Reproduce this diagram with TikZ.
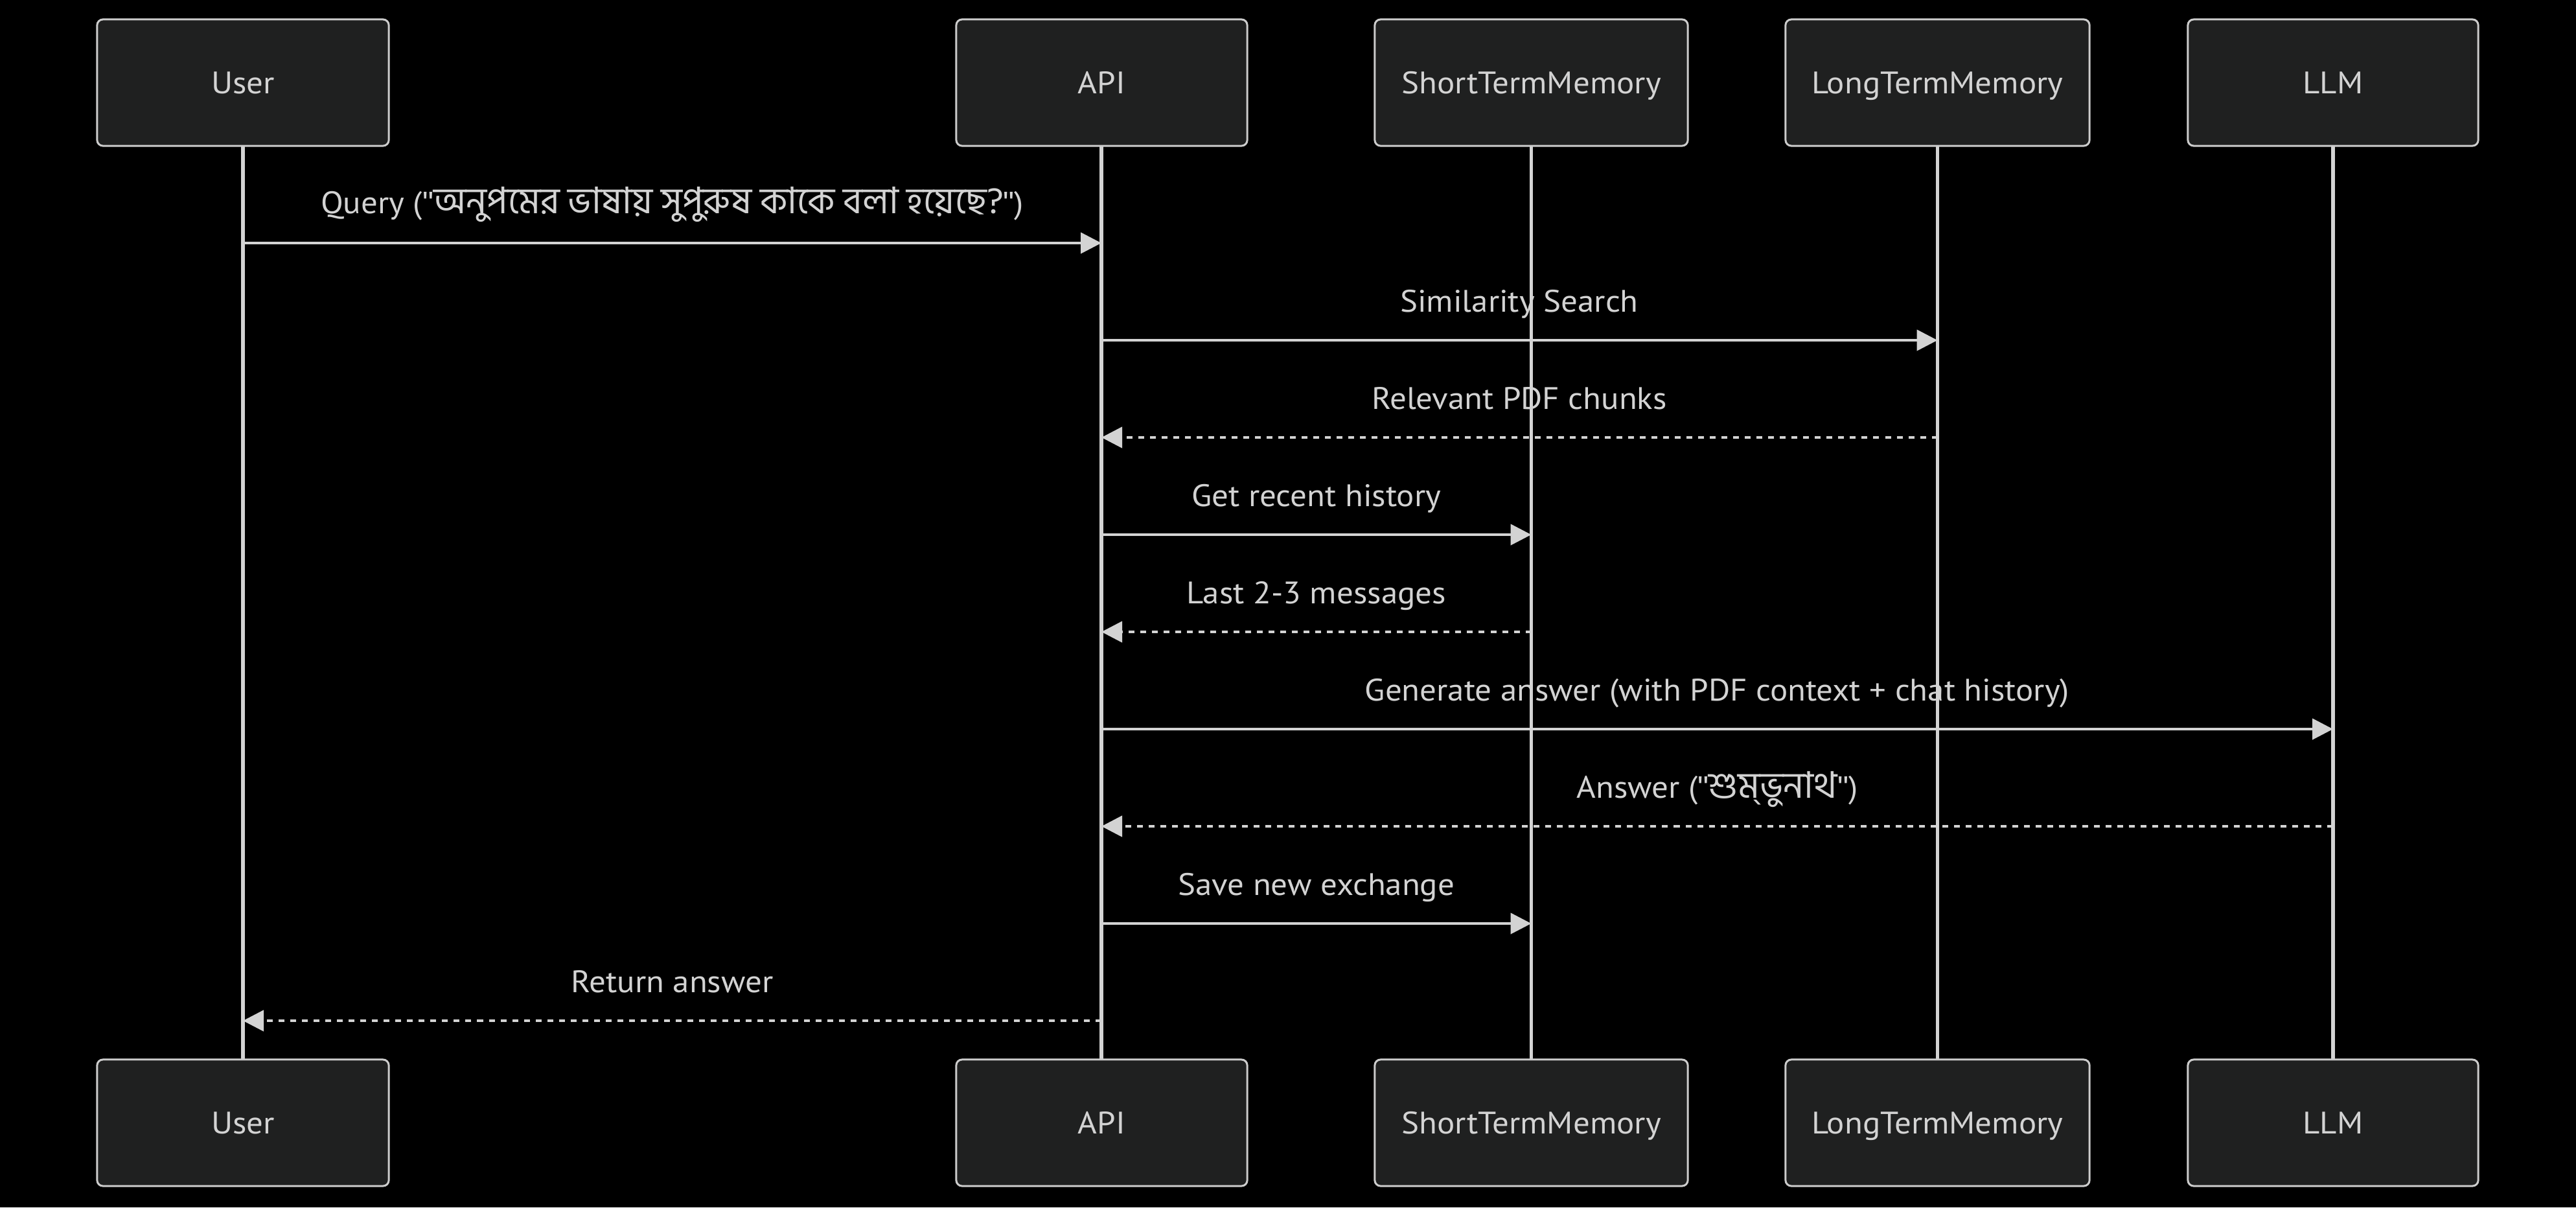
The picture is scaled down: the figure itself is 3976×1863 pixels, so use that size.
\documentclass[tikz,border=0pt]{standalone}
\usepackage{fontspec}
\newfontfamily\lblfont[FakeStretch=1.06, Ligatures=TeXOff]{PT Sans}
\newfontfamily\qfont[Ligatures=TeXOff]{Liberation Sans}
\newfontfamily\bn[Script=Bengali, Scale=1.18]{Hind Siliguri}
\newcommand\dquo{{\qfont\symbol{34}}}
\usetikzlibrary{arrows.meta}
\definecolor{actfill}{HTML}{1F2020}
\definecolor{actline}{HTML}{CCCCCC}
\definecolor{ink}{HTML}{D3D3D3}
\tikzset{
  actor/.style={draw=actline, fill=actfill, line width=0.03cm, rounded corners=0.09cm,
    minimum height=1.95cm, inner sep=0pt, text height=0.34cm, text depth=0pt, text=ink,
    font=\lblfont\fontsize{13.66pt}{16pt}\selectfont},
  lifeline/.style={draw=ink, line width=0.055cm},
  msg/.style={draw=ink, line width=0.045cm, -{Triangle[length=0.32cm, width=0.32cm]}},
  reply/.style={msg, dash pattern=on 0.09cm off 0.09cm},
  lbl/.style={anchor=base, text=ink, inner sep=0pt, font=\lblfont\fontsize{13.66pt}{16pt}\selectfont}
}
\begin{document}
\begin{tikzpicture}[x=0.01cm, y=-0.01cm]
\fill[black] (0,0) rectangle (3976,1863);
\useasboundingbox (0,0) rectangle (3976,1863);
% lifelines first (under boxes)
\coordinate (uT) at (375,225); \coordinate (uB) at (375,1635);
\coordinate (aT) at (1700,225); \coordinate (aB) at (1700,1635);
\coordinate (sT) at (2363.5,225); \coordinate (sB) at (2363.5,1635);
\coordinate (lT) at (2990.5,225); \coordinate (lB) at (2990.5,1635);
\coordinate (mT) at (3601,225); \coordinate (mB) at (3601,1635);
\draw[lifeline] (uT) -- (uB);
\draw[lifeline] (aT) -- (aB);
\draw[lifeline] (sT) -- (sB);
\draw[lifeline] (lT) -- (lB);
\draw[lifeline] (mT) -- (mB);
% actors
\node[actor, minimum width=4.5cm]  (userT) at (375,127.5) {User};
\node[actor, minimum width=4.49cm] (apiT)  at (1700.5,127.5) {API};
\node[actor, minimum width=4.83cm] (stmT)  at (2363.5,127.5) {ShortTermMemory};
\node[actor, minimum width=4.69cm] (ltmT)  at (2990.5,127.5) {LongTermMemory};
\node[actor, minimum width=4.48cm] (llmT)  at (3601,127.5) {LLM};
\node[actor, minimum width=4.5cm]  (userB) at (375,1732.5) {User};
\node[actor, minimum width=4.49cm] (apiB)  at (1700.5,1732.5) {API};
\node[actor, minimum width=4.83cm] (stmB)  at (2363.5,1732.5) {ShortTermMemory};
\node[actor, minimum width=4.69cm] (ltmB)  at (2990.5,1732.5) {LongTermMemory};
\node[actor, minimum width=4.48cm] (llmB)  at (3601,1732.5) {LLM};
% messages
\draw[msg]   (uT |- 0,375)  -- (aT |- 0,375);
\node[lbl] (t1) at (1037.5,329) {Query (\dquo{\bn অনুপমের ভাষায় সুপুরুষ কাকে বলা হয়েছে?}\dquo)};
\draw[msg]   (aT |- 0,525)  -- (lT |- 0,525);
\node[lbl] (t2) at (2345,481) {Similarity Search};
\draw[reply] (lT |- 0,675)  -- (aT |- 0,675);
\node[lbl] (t3) at (2345,631) {Relevant PDF chunks};
\draw[msg]   (aT |- 0,825)  -- (sT |- 0,825);
\node[lbl] (t4) at (2031.75,781) {Get recent history};
\draw[reply] (sT |- 0,975)  -- (aT |- 0,975);
\node[lbl] (t5) at (2031.75,931) {Last 2-3 messages};
\draw[msg]   (aT |- 0,1125) -- (mT |- 0,1125);
\node[lbl] (t6) at (2650.5,1081) {Generate answer (with PDF context + chat history)};
\draw[reply] (mT |- 0,1275) -- (aT |- 0,1275);
\node[lbl] (t7) at (2650.5,1231) {Answer (\dquo{\bn শুম্‌ভুনাথ}\dquo)};
\draw[msg]   (aT |- 0,1425) -- (sT |- 0,1425);
\node[lbl] (t8) at (2031.75,1381) {Save new exchange};
\draw[reply] (aT |- 0,1575) -- (uT |- 0,1575);
\node[lbl] (t9) at (1037.5,1531) {Return answer};
\end{tikzpicture}
\end{document}
